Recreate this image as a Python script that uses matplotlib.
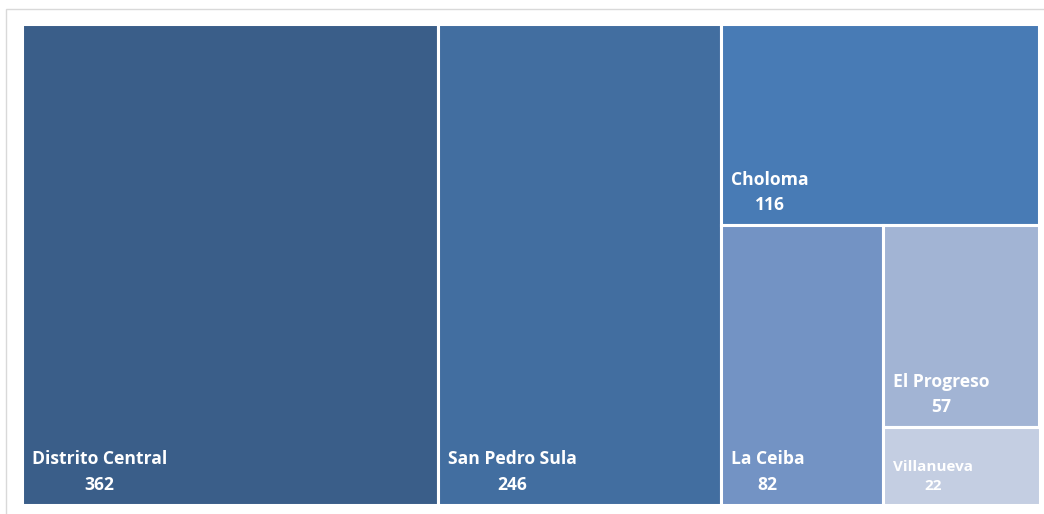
import matplotlib
matplotlib.use("Agg")
import matplotlib.pyplot as plt
from matplotlib.patches import Rectangle

# data
municipios = ["Distrito Central", "San Pedro Sula", "Choloma", "La Ceiba", "El Progreso", "Villanueva"]
casos = [362, 246, 116, 82, 57, 22]
colores = ["#3a5e89", "#426ea0", "#487bb5", "#7393c4", "#a2b4d4", "#c4cee2"]
tam_fuente = [12.6, 12.6, 12.6, 12.6, 12.6, 11]

W, H = 1018.0, 481.0


def worst(row, side):
    s = sum(row)
    return max(max(side * side * r / (s * s), (s * s) / (side * side * r)) for r in row)


def squarify(vals, x, y, w, h):
    # vals already scaled to area
    rects = []
    vals = list(vals)
    while vals:
        side = min(w, h)
        row = [vals.pop(0)]
        while vals and worst(row + [vals[0]], side) <= worst(row, side):
            row.append(vals.pop(0))
        s = sum(row)
        if w >= h:
            # column on the left
            cw = s / h
            cy = y
            for r in row:
                rh = r / cw
                rects.append((x, cy, cw, rh))
                cy += rh
            x += cw
            w -= cw
        else:
            # row on the top
            rh = s / w
            cx = x
            for r in row:
                rw = r / rh
                rects.append((cx, y, rw, rh))
                cx += rw
            y += rh
            h -= rh
    return rects


total = sum(casos)
areas = [v / total * W * H for v in casos]
rects = squarify(areas, 0, 0, W, H)

fig = plt.figure(figsize=(10.44, 5.14), dpi=100)
fig.patch.set_facecolor("white")

# light outer frame
fig.add_artist(Rectangle((6 / 1044, -0.05), 1.1, 1 - 9 / 514 + 0.05, transform=fig.transFigure,
                         fill=False, edgecolor="#d9d9d9", linewidth=1.0))

ax = fig.add_axes([21.5 / 1044, 1 - 504.5 / 514, W / 1044, H / 514])
ax.set_xlim(0, W)
ax.set_ylim(H, 0)
ax.axis("off")

for (x, y, w, h), nombre, val, col, fs in zip(rects, municipios, casos, colores, tam_fuente):
    ax.add_patch(Rectangle((x, y), w, h, facecolor=col, edgecolor="white", linewidth=2.2))
    ax.text(x + 10, y + h - 11, f"{nombre}\n{val}", ha="left", va="bottom", multialignment="center",
            color="white", fontsize=fs, fontweight="bold", family="Open Sans", linespacing=1.5)

fig.savefig("out.png", dpi=100)
